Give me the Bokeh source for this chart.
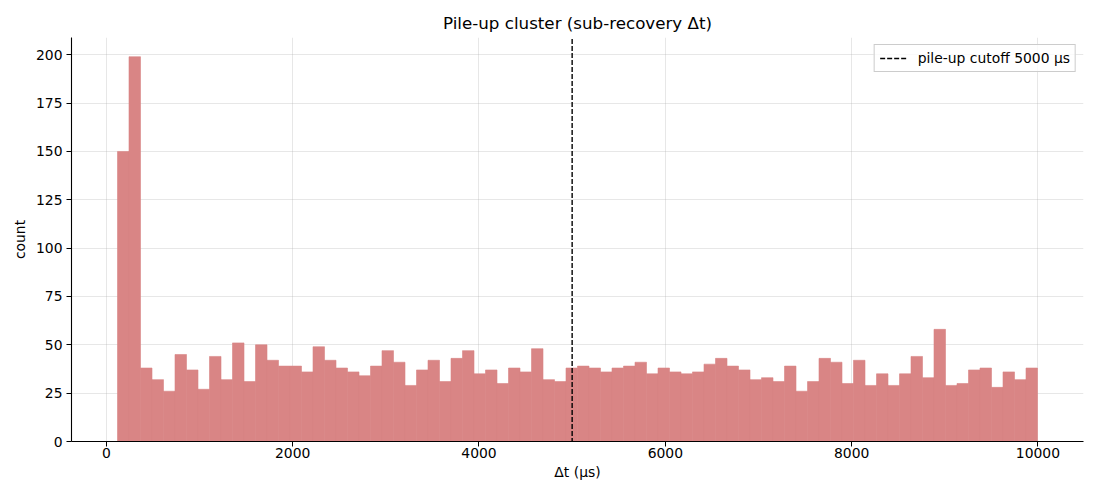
import numpy as np
from bokeh.plotting import figure
from bokeh.models import FixedTicker, Legend, LegendItem, Range1d
from bokeh.embed import file_html
from bokeh.resources import INLINE

counts = [150, 199, 38, 32, 26, 45, 37, 27, 44, 32,
          51, 31, 50, 42, 39, 39, 36, 49, 42, 38,
          36, 34, 39, 47, 41, 29, 37, 42, 31, 43,
          47, 35, 37, 30, 38, 36, 48, 32, 31, 38,
          39, 38, 36, 38, 39, 41, 35, 38, 36, 35,
          36, 40, 43, 39, 37, 32, 33, 31, 39, 26,
          31, 43, 41, 30, 42, 29, 35, 29, 35, 44,
          33, 58, 29, 30, 37, 38, 28, 36, 32, 38]
dt_min = 120.0
dt_max = 9995.0
cutoff = 5000
x_ticks = [0, 2000, 4000, 6000, 8000, 10000]
y_ticks = [0, 25, 50, 75, 100, 125, 150, 175, 200]

edges = np.linspace(dt_min, dt_max, len(counts) + 1)
span = dt_max - dt_min

FONT = "DejaVu Sans"

p = figure(width=1084, height=484, output_backend="svg", toolbar_location=None,
           x_range=Range1d(dt_min - 0.05 * span, dt_max + 0.05 * span),
           y_range=Range1d(0, max(counts) * 1.05),
           min_border_left=71, min_border_right=1, min_border_top=37, min_border_bottom=43)

p.quad(left=edges[:-1], right=edges[1:], bottom=0, top=counts,
       fill_color="#D98585", fill_alpha=1.0, line_color="#D98585", line_width=0.6)

vline = p.line(x=[cutoff, cutoff], y=[-1000, 1000], line_color="black",
               line_dash="5 2", line_width=1.4)

p.title.text = "Pile-up cluster (sub-recovery Δt)"
p.title.align = "center"
p.title.text_font = FONT
p.title.text_font_size = "16.7px"
p.title.text_font_style = "normal"
p.title.text_color = "black"

p.xaxis.axis_label = "Δt (μs)"
p.yaxis.axis_label = "count"
for ax in (p.xaxis, p.yaxis):
    ax.axis_label_text_font = FONT
    ax.axis_label_text_font_size = "13.9px"
    ax.axis_label_text_font_style = "normal"
    ax.axis_label_text_color = "black"
    ax.major_label_text_font = FONT
    ax.major_label_text_font_size = "13.9px"
    ax.major_label_text_color = "black"
    ax.axis_line_color = "black"
    ax.axis_line_width = 1.1
    ax.major_tick_line_color = "black"
    ax.major_tick_out = 5
    ax.major_tick_in = 0
    ax.minor_tick_line_color = None
p.xaxis.major_label_standoff = 1
p.xaxis.axis_label_standoff = 3
p.yaxis.major_label_standoff = 4
p.yaxis.axis_label_standoff = 5
p.xaxis.ticker = FixedTicker(ticks=x_ticks)
p.yaxis.ticker = FixedTicker(ticks=y_ticks)

p.xgrid.ticker = FixedTicker(ticks=x_ticks)
p.ygrid.ticker = FixedTicker(ticks=y_ticks)
p.grid.grid_line_color = "#b0b0b0"
p.grid.grid_line_alpha = 0.3
p.outline_line_color = None

legend = Legend(items=[LegendItem(label="pile-up cutoff 5000 μs", renderers=[vline])],
                location="top_right")
legend.label_text_font = FONT
legend.label_text_font_size = "13.9px"
legend.label_text_color = "black"
legend.border_line_color = "#cccccc"
legend.border_line_alpha = 1
legend.background_fill_alpha = 0.8
legend.padding = 5
legend.margin = 7
legend.glyph_width = 28
legend.glyph_height = 14
legend.label_standoff = 10
legend.spacing = 0
p.add_layout(legend)

open("out.html", "w").write(file_html(p, INLINE))
